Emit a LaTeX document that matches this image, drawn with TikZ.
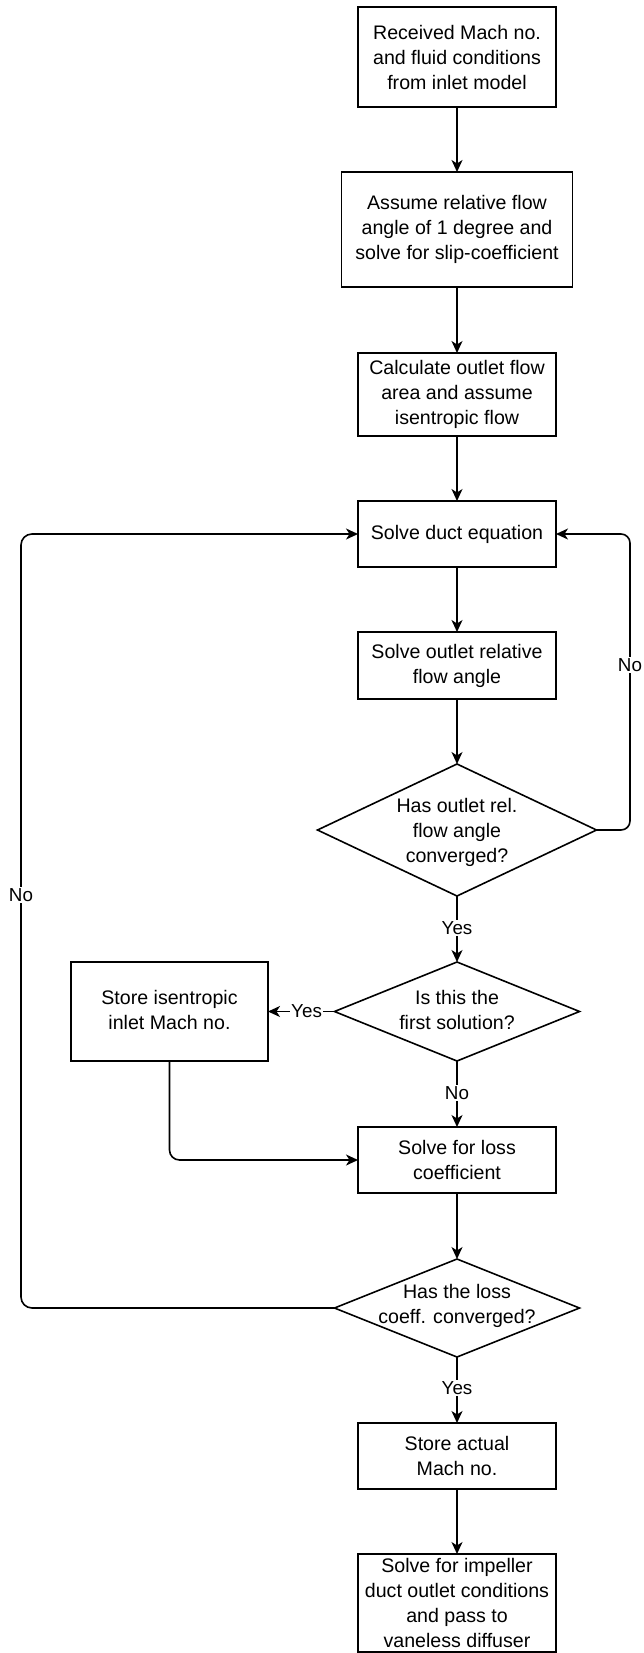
\documentclass[tikz,border=0pt]{standalone}
\usepackage{fontspec}
\setmainfont{Liberation Sans}
\usetikzlibrary{shapes.geometric,arrows.meta}
\begin{document}
\begin{tikzpicture}[x=1pt,y=-1pt,
  every node/.style={font=\fontsize{19.6}{25}\selectfont},
  proc/.style={draw, line width=1.6pt, rectangle, inner sep=0pt, outer sep=0pt, align=center},
  decision/.style={draw, line width=1.6pt, diamond, inner sep=0pt, outer sep=0pt},
  dtext/.style={align=center, inner sep=0pt},
  flow/.style={line width=1.6pt, -{Stealth[length=12pt,width=11pt,inset=3.5pt]}},
  lbl/.style={fill=white, inner sep=1.5pt, font=\fontsize{18.8}{22}\selectfont},
]
% page
\fill[white] (0,0) rectangle (644,1653);
\useasboundingbox (0,0) rectangle (644,1653);

% main column
\node[proc, minimum width=198pt, minimum height=100pt] (b1) at (457,57)
  {Received Mach no.\\and fluid conditions\\from inlet model};
\node[proc, minimum width=231pt, minimum height=115pt] (b2) at (457,229.5)
  {Assume relative flow\\angle of 1 degree and\\solve for slip-coefficient};
\node[proc, minimum width=198pt, minimum height=83pt] (b3) at (457,394.5)
  {Calculate outlet flow\\area and assume\\isentropic flow};
\node[proc, minimum width=198pt, minimum height=66pt] (b4) at (457,534)
  {Solve duct equation};
\node[proc, minimum width=198pt, minimum height=67pt] (b5) at (457,665.5)
  {Solve outlet relative\\flow angle};
\node[decision, minimum width=279pt, minimum height=132pt] (d1) at (457,830) {};
\node[dtext] (d1t) at (457,832) {Has outlet rel.\\flow angle\\converged?};
\node[decision, minimum width=245pt, minimum height=99pt] (d2) at (457,1011.5) {};
\node[dtext] (d2t) at (457,1010) {Is this the\\first solution?};
\node[proc, minimum width=197pt, minimum height=99pt] (iso) at (169.5,1011.5) {};
\node[dtext] (isot) at (169.5,1009.5) {Store isentropic\\inlet Mach no.};
\node[proc, minimum width=198pt, minimum height=66pt] (loss) at (457,1160)
  {Solve for loss\\coefficient};
\node[decision, minimum width=245pt, minimum height=98pt] (d3) at (457,1308) {};
\node[dtext] (d3t) at (457,1306) {Has the loss\\coeff. converged?};
\node[proc, minimum width=198pt, minimum height=66pt] (act) at (457,1456)
  {Store actual\\Mach no.};
\node[proc, minimum width=198pt, minimum height=98pt] (fin) at (457,1603)
  {Solve for impeller\\duct outlet conditions\\and pass to\\vaneless diffuser};

% loop-back points
\coordinate (rb) at (630,830);
\coordinate (rt) at (630,534);
\coordinate (lb) at (21,1308);
\coordinate (lt) at (21,534);

% straight flow
\draw[flow] (b1) -- (b2);
\draw[flow] (b2) -- (b3);
\draw[flow] (b3) -- (b4);
\draw[flow] (b4) -- (b5);
\draw[flow] (b5) -- (d1);
\draw[flow] (d1) -- node[lbl, pos=0.48] {Yes} (d2);
\draw[flow] (d2.west) -- node[lbl, pos=0.42] {Yes} (iso.east);
\draw[flow] (d2) -- node[lbl, pos=0.48] {No} (loss);
\draw[flow, rounded corners=10pt] (iso.south) |- (loss.west);
\draw[flow] (loss) -- (d3);
\draw[flow] (d3) -- node[lbl, pos=0.47] {Yes} (act);
\draw[flow] (act) -- (fin);

% loops
\draw[flow, rounded corners=9pt] (d1.east) -- (rb) -- (rt) -- (b4.east);
\node[lbl] (no1) at (630,665) {No};
\draw[flow, rounded corners=11pt] (d3.west) -- (lb) -- (lt) -- (b4.west);
\node[lbl] (no2) at (21,895) {No};
\end{tikzpicture}
\end{document}
